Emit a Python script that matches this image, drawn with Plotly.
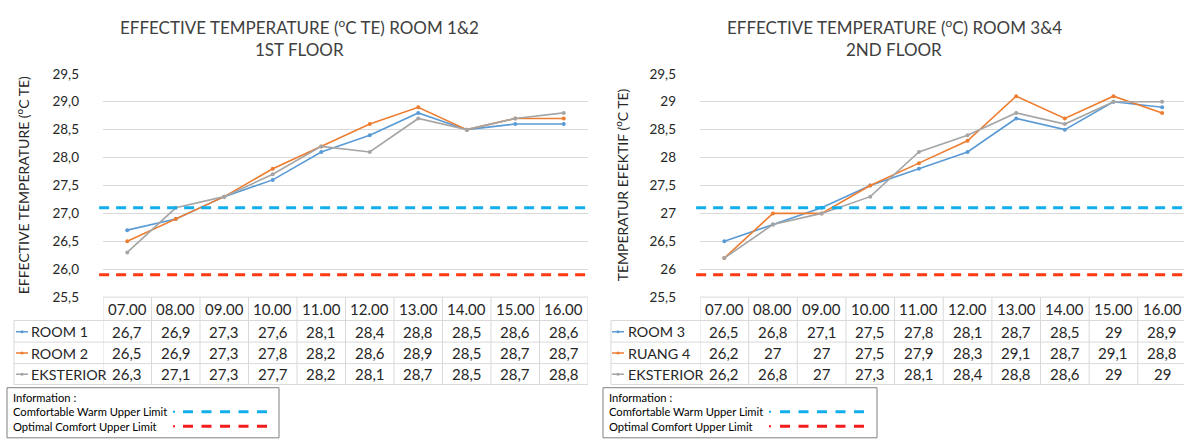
import plotly.graph_objects as go

# ---- data -------------------------------------------------------------
hours = ["07.00", "08.00", "09.00", "10.00", "11.00",
         "12.00", "13.00", "14.00", "15.00", "16.00"]

# 1st floor
room1 = [26.7, 26.9, 27.3, 27.6, 28.1, 28.4, 28.8, 28.5, 28.6, 28.6]
room2 = [26.5, 26.9, 27.3, 27.8, 28.2, 28.6, 28.9, 28.5, 28.7, 28.7]
exterior_1 = [26.3, 27.1, 27.3, 27.7, 28.2, 28.1, 28.7, 28.5, 28.7, 28.8]

# 2nd floor
room3 = [26.5, 26.8, 27.1, 27.5, 27.8, 28.1, 28.7, 28.5, 29, 28.9]
ruang4 = [26.2, 27, 27, 27.5, 27.9, 28.3, 29.1, 28.7, 29.1, 28.8]
exterior_2 = [26.2, 26.8, 27, 27.3, 28.1, 28.4, 28.8, 28.6, 29, 29]

names_1 = ["ROOM 1", "ROOM 2", "EKSTERIOR"]
names_2 = ["ROOM 3", "RUANG 4", "EKSTERIOR"]

warm_upper_limit = 27.1
optimal_upper_limit = 25.9

tick_vals = [25.5, 26.0, 26.5, 27.0, 27.5, 28.0, 28.5, 29.0, 29.5]
tick_text_1 = ["25,5", "26,0", "26,5", "27,0", "27,5", "28,0", "28,5", "29,0", "29,5"]
tick_text_2 = ["25,5", "26", "26,5", "27", "27,5", "28", "28,5", "29", "29,5"]

title_1 = "EFFECTIVE TEMPERATURE (<sup>o</sup>C TE) ROOM 1&2"
subtitle_1 = "1ST FLOOR"
title_2 = "EFFECTIVE TEMPERATURE (<sup>o</sup>C) ROOM 3&4"
subtitle_2 = "2ND FLOOR"
ytitle_1 = "EFFECTIVE TEMPERATURE (<sup>o</sup>C TE)"
ytitle_2 = "TEMPERATUR EFEKTIF (<sup>o</sup>C TE)"

info_title = "Information :"
info_warm = "Comfortable Warm Upper Limit"
info_optimal = "Optimal Comfort Upper Limit"

# ---- styling ----------------------------------------------------------
W, H = 1184, 441
FONT = "Lato"
SERIES_COLORS = ["#5B9BD5", "#ED7D31", "#A5A5A5"]
WARM_COLOR = "#12AEEC"
OPT_COLOR_PLOT = "#FE3A12"
OPT_COLOR_KEY = "#F21C1C"
GRID = "#D9D9D9"
BORDER = "#D9D9D9"
TEXT_DARK = "#262626"


def px(x):
    return x / W


def py(y):
    return 1 - y / H


def fmt(v):
    return f"{v:g}".replace(".", ",")


fig = go.Figure()

panels = [
    dict(xa="x", ya="y", series=[room1, room2, exterior_1], names=names_1,
         dom=(103, 588), xrange=[-0.5, 9.5], ticks=tick_text_1,
         title=title_1, sub=subtitle_1, tcx=299, ytitle=ytitle_1, ytx=22,
         lab_left=14, key_x=(16, 28), lab_x=29,
         box=(7, 279), info_x=11, dash_x=(183, 267), dot_x=174),
    dict(xa="x2", ya="y2", series=[room3, ruang4, exterior_2], names=names_2,
         dom=(700, 1184), xrange=[-0.5, 9.45], ticks=tick_text_2,
         title=title_2, sub=subtitle_2, tcx=894, ytitle=ytitle_2, ytx=621,
         lab_left=611, key_x=(612, 624), lab_x=626,
         box=(603, 877), info_x=607, dash_x=(780, 864), dot_x=770),
]

PLOT_TOP, PLOT_BOT = 68.3, 300
TABLE_TOP = 300
ROW_EDGES = [324.3, 346.7, 369.0, 390.7]
HEADER_Y = 312.5
ROW_Y = [336, 358, 380]

annotations = []
shapes = []

for k, p in enumerate(panels):
    xa, ya = p["xa"], p["ya"]
    # series lines
    for vals, name, col in zip(p["series"], p["names"], SERIES_COLORS):
        fig.add_trace(go.Scatter(
            x=hours, y=vals, name=name, mode="lines+markers",
            line=dict(color=col, width=1.6),
            marker=dict(color=col, size=4),
            xaxis=xa, yaxis=ya, showlegend=False, cliponaxis=False))

    # comfort limit lines across the plot area
    dom_ref = xa + " domain"
    shapes.append(dict(type="line", xref=dom_ref, yref=ya, x0=-0.008, x1=1,
                       y0=warm_upper_limit, y1=warm_upper_limit,
                       line=dict(color=WARM_COLOR, width=3, dash="10px,7px")))
    shapes.append(dict(type="line", xref=dom_ref, yref=ya, x0=-0.008, x1=1,
                       y0=optimal_upper_limit, y1=optimal_upper_limit,
                       line=dict(color=OPT_COLOR_PLOT, width=3, dash="10px,7px")))

    # titles
    annotations.append(dict(text=p["title"], x=px(p["tcx"]), y=py(19.5), xref="paper",
                            yref="paper", xanchor="center", yanchor="middle",
                            showarrow=False, font=dict(size=17, color="#404040")))
    annotations.append(dict(text=p["sub"], x=px(p["tcx"]), y=py(43), xref="paper",
                            yref="paper", xanchor="center", yanchor="middle",
                            showarrow=False, font=dict(size=17, color="#404040")))
    annotations.append(dict(text=p["ytitle"], x=px(p["ytx"]), y=py(184), xref="paper",
                            yref="paper", xanchor="center", yanchor="middle",
                            textangle=-90, showarrow=False,
                            font=dict(size=14, color=TEXT_DARK)))

    # data table: header row (placed by category index on the shared x axis)
    for i, h in enumerate(hours):
        annotations.append(dict(text=h, x=i, y=py(HEADER_Y), xref=xa, yref="paper",
                                xanchor="center", yanchor="middle", showarrow=False,
                                font=dict(size=15, color=TEXT_DARK)))
    # data table: value rows with legend keys
    for r, (vals, name, col) in enumerate(zip(p["series"], p["names"], SERIES_COLORS)):
        yy = py(ROW_Y[r])
        for i, v in enumerate(vals):
            annotations.append(dict(text=fmt(v), x=i, y=yy, xref=xa, yref="paper",
                                    xanchor="center", yanchor="middle", showarrow=False,
                                    font=dict(size=15, color=TEXT_DARK)))
        annotations.append(dict(text=name, x=px(p["lab_x"]), y=yy, xref="paper",
                                yref="paper", xanchor="left", yanchor="middle",
                                showarrow=False, font=dict(size=14.3, color=TEXT_DARK)))
        k0, k1 = p["key_x"]
        shapes.append(dict(type="line", xref="paper", yref="paper",
                           x0=px(k0), x1=px(k1), y0=yy, y1=yy,
                           line=dict(color=col, width=1.5)))
        kc = (k0 + k1) / 2
        shapes.append(dict(type="circle", xref="paper", yref="paper",
                           x0=px(kc - 1.6), x1=px(kc + 1.6),
                           y0=yy - 1.6 / H, y1=yy + 1.6 / H,
                           fillcolor=col, line=dict(width=0)))

    # table grid
    right_px = p["dom"][1]
    for i in range(len(hours) + 1):
        shapes.append(dict(type="line", xref=xa, yref="paper", x0=i - 0.5, x1=i - 0.5,
                           y0=py(TABLE_TOP), y1=py(ROW_EDGES[-1]),
                           line=dict(color=BORDER, width=1)))
    shapes.append(dict(type="line", xref="paper", yref="paper",
                       x0=px(p["dom"][0]), x1=px(right_px),
                       y0=py(TABLE_TOP), y1=py(TABLE_TOP),
                       line=dict(color=BORDER, width=1)))
    for e in ROW_EDGES:
        shapes.append(dict(type="line", xref="paper", yref="paper",
                           x0=px(p["lab_left"]), x1=px(right_px), y0=py(e), y1=py(e),
                           line=dict(color=BORDER, width=1)))
    shapes.append(dict(type="line", xref="paper", yref="paper",
                       x0=px(p["lab_left"]), x1=px(p["lab_left"]),
                       y0=py(ROW_EDGES[0]), y1=py(ROW_EDGES[-1]),
                       line=dict(color=BORDER, width=1)))

    # information box
    b0, b1 = p["box"]
    shapes.append(dict(type="rect", xref="paper", yref="paper",
                       x0=px(b0), x1=px(b1), y0=py(394), y1=py(446),
                       line=dict(color="#7F7F7F", width=1), fillcolor="rgba(0,0,0,0)"))
    for txt, yv in [(info_title, 404), (info_warm, 419), (info_optimal, 434)]:
        annotations.append(dict(text=txt, x=px(p["info_x"]), y=py(yv), xref="paper",
                                yref="paper", xanchor="left", yanchor="middle",
                                showarrow=False, font=dict(size=11.2, color="#000000")))
    d0, d1 = p["dash_x"]
    for yv, col in [(419, WARM_COLOR), (434, OPT_COLOR_KEY)]:
        shapes.append(dict(type="line", xref="paper", yref="paper",
                           x0=px(d0), x1=px(d1), y0=py(yv), y1=py(yv),
                           line=dict(color=col, width=3, dash="10px,8.5px")))
        shapes.append(dict(type="line", xref="paper", yref="paper",
                           x0=px(p["dot_x"] - 1), x1=px(p["dot_x"] + 1),
                           y0=py(yv), y1=py(yv), line=dict(color=col, width=2)))

common_x = dict(type="category", showticklabels=False, showgrid=False, zeroline=False,
                showline=False, ticks="", fixedrange=True)
common_y = dict(range=[25.5, 29.5], tickvals=tick_vals, showgrid=True, gridcolor=GRID,
                gridwidth=1, zeroline=False, showline=False, ticks="",
                ticklabelstandoff=23, tickfont=dict(size=13.5, color=TEXT_DARK),
                domain=[py(PLOT_BOT), py(PLOT_TOP)])

fig.update_layout(
    width=W, height=H,
    margin=dict(l=0, r=0, t=0, b=0),
    paper_bgcolor="white", plot_bgcolor="white",
    font=dict(family=FONT, color=TEXT_DARK),
    xaxis=dict(common_x, domain=[px(103), px(588)], range=panels[0]["xrange"],
               anchor="y"),
    xaxis2=dict(common_x, domain=[px(700), px(1184)], range=panels[1]["xrange"],
                anchor="y2"),
    yaxis=dict(common_y, ticktext=tick_text_1, anchor="x"),
    yaxis2=dict(common_y, ticktext=tick_text_2, anchor="x2"),
    shapes=shapes,
    annotations=annotations,
    showlegend=False,
)

fig.write_html("out.html")
